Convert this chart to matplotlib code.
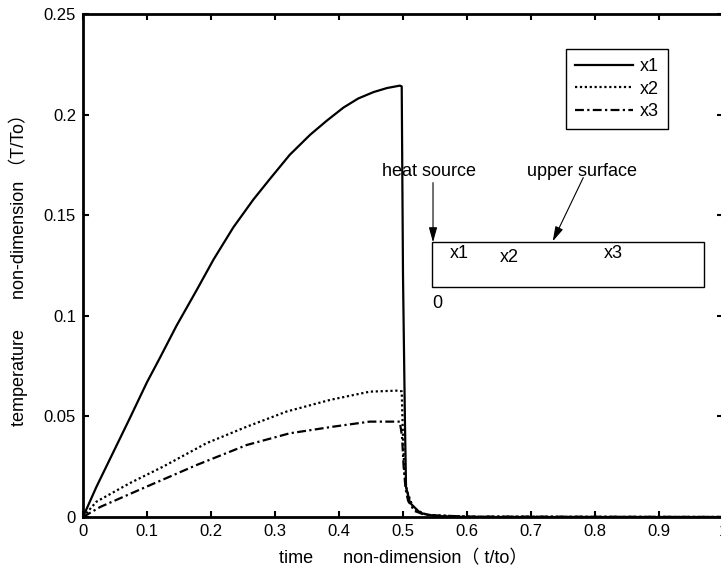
import matplotlib
matplotlib.use('Agg')
import matplotlib.pyplot as plt
from matplotlib.patches import Rectangle

plt.rcParams['font.family'] = ['Liberation Sans', 'Noto Sans CJK SC', 'DejaVu Sans']

# curves
x1_t = [0, 0.021, 0.047, 0.073, 0.10, 0.12, 0.146, 0.178, 0.204, 0.235, 0.266, 0.292,
        0.323, 0.355, 0.381, 0.407, 0.43, 0.454, 0.475, 0.495, 0.498, 0.500, 0.503, 0.5047,
        0.511, 0.527, 0.55, 0.6, 1.0]
x1_y = [0, 0.015, 0.032, 0.049, 0.067, 0.079, 0.095, 0.113, 0.128, 0.144, 0.1577, 0.168,
        0.180, 0.190, 0.197, 0.2035, 0.208, 0.2112, 0.2132, 0.2144, 0.2140, 0.12, 0.048, 0.015,
        0.007, 0.002, 0.0005, 0, 0]

x2_t = [0, 0.021, 0.073, 0.125, 0.193, 0.256, 0.318, 0.386, 0.448, 0.49, 0.498, 0.4995,
        0.502, 0.5058, 0.516, 0.537, 0.6, 1.0]
x2_y = [0, 0.0076, 0.0168, 0.025, 0.0367, 0.0449, 0.0524, 0.0582, 0.0623, 0.0628, 0.0625, 0.045,
        0.023, 0.0134, 0.0043, 0.001, 0.0002, 0]

x3_t = [0, 0.027, 0.0995, 0.178, 0.256, 0.323, 0.391, 0.448, 0.495, 0.4985, 0.501, 0.504,
        0.508, 0.518, 0.535, 0.6, 1.0]
x3_y = [0, 0.005, 0.0151, 0.0259, 0.0358, 0.0416, 0.0449, 0.0474, 0.0474, 0.040, 0.025, 0.014,
        0.008, 0.003, 0.001, 0.0002, 0]

xticks = [0, 0.1, 0.2, 0.3, 0.4, 0.5, 0.6, 0.7, 0.8, 0.9, 1.0]
xtick_labels = ['0', '0.1', '0.2', '0.3', '0.4', '0.5', '0.6', '0.7', '0.8', '0.9', '1']
yticks = [0, 0.05, 0.1, 0.15, 0.2, 0.25]
ytick_labels = ['0', '0.05', '0.1', '0.15', '0.2', '0.25']

fig = plt.figure(figsize=(7.21, 5.71), dpi=100)
# axes runs past the right edge of the figure, as in the reference
ax = fig.add_axes([83 / 721, 54 / 571, 640 / 721, 503 / 571])

ax.plot(x1_t, x1_y, color='black', lw=1.6, label='x1')
ax.plot(x2_t, x2_y, color='black', lw=1.6, linestyle=(0, (1, 1.2)), label='x2')
ax.plot(x3_t, x3_y, color='black', lw=1.6, linestyle=(0, (4, 1.5, 1, 1.5)), label='x3')

ax.set_xlim(0, 1)
ax.set_ylim(0, 0.25)
ax.set_xticks(xticks)
ax.set_xticklabels(xtick_labels)
ax.set_yticks(yticks)
ax.set_yticklabels(ytick_labels)
ax.tick_params(direction='in', length=4.5, width=1.5, labelsize=12, top=True, right=True, pad=5)
for s in ax.spines.values():
    s.set_linewidth(2)

ax.set_xlabel('time      non-dimension（ t/to）', fontsize=13, labelpad=8)
ax.set_ylabel('temperature      non-dimension （T/To）', fontsize=13, labelpad=11)

leg = ax.legend(loc='upper right', bbox_to_anchor=(0.9145, 0.930), borderaxespad=0,
                fontsize=13, fancybox=False, framealpha=1, edgecolor='black',
                handlelength=3.2, labelspacing=0.3, borderpad=0.5, handletextpad=0.4)
leg.get_frame().set_linewidth(1.0)

# sketch of the plate
ax.add_patch(Rectangle((0.5458, 0.1143), 0.4245, 0.0222, fill=False, edgecolor='black', lw=1))
ax.text(0.467, 0.1697, 'heat source', fontsize=13, va='baseline', ha='left')
ax.text(0.6933, 0.1697, 'upper surface', fontsize=13, va='baseline', ha='left')
ax.text(0.5734, 0.1312, 'x1', fontsize=13, va='center', ha='left')
ax.text(0.6516, 0.1292, 'x2', fontsize=13, va='center', ha='left')
ax.text(0.8145, 0.1308, 'x3', fontsize=13, va='center', ha='left')
ax.text(0.5458, 0.106, '0', fontsize=13, va='center', ha='left')

arrow = dict(arrowstyle='-|>,head_length=0.9,head_width=0.25', color='black', lw=0.8,
             shrinkA=0, shrinkB=0)
ax.annotate('', xy=(0.5469, 0.1365), xytext=(0.5469, 0.1662), arrowprops=arrow)
ax.annotate('', xy=(0.7339, 0.1370), xytext=(0.7817, 0.1687), arrowprops=arrow)

fig.savefig('out.png', dpi=100)
